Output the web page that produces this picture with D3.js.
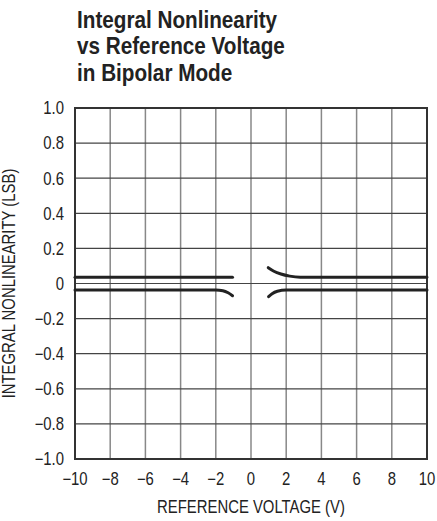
<!DOCTYPE html>
<html>
<head>
<meta charset="utf-8">
<script src="https://cdn.jsdelivr.net/npm/d3@7"></script>
<style>
  body { margin: 0; background: #fff; }
  svg { display: block; font-family: "Liberation Sans", Arial, sans-serif; }
</style>
</head>
<body>
<svg id="chart"></svg>
<script>
const width = 437;
const height = 521;

const titleLines = ["Integral Nonlinearity", "vs Reference Voltage", "in Bipolar Mode"];
const xTicks = [-10, -8, -6, -4, -2, 0, 2, 4, 6, 8, 10];
const yTicks = [-1, -0.8, -0.6, -0.4, -0.2, 0, 0.2, 0.4, 0.6, 0.8, 1];

// curves
const upperLeftX = [-10, -1.05];
const upperLeftY = [0.035, 0.035];
const lowerLeftX = [-10, -2, -1.6, -1.3, -1.05];
const lowerLeftY = [-0.037, -0.037, -0.041, -0.053, -0.07];
const upperRightX = [0.98, 1.3, 1.7, 2.2, 2.8, 10];
const upperRightY = [0.09, 0.07, 0.054, 0.042, 0.036, 0.035];
const lowerRightX = [1.0, 1.2, 1.5, 2.0, 10];
const lowerRightY = [-0.075, -0.058, -0.044, -0.037, -0.037];

const svg = d3.select("#chart").attr("width", width).attr("height", height);

const x = d3.scaleLinear().domain([-10, 10]).range([75, 427]);
const y = d3.scaleLinear().domain([-1, 1]).range([459, 108]);

// no condensed face installed, so squeeze the normal one
const narrow = 0.85;
const labelSize = 17.5;
const ink = "#222";

// title
const title = svg.append("g").attr("transform", `translate(77,28) scale(0.9,1)`);
title.selectAll("text")
  .data(titleLines)
  .enter()
  .append("text")
  .attr("x", 0)
  .attr("y", (d, i) => i * 26.5)
  .attr("font-size", 23)
  .attr("font-weight", "bold")
  .attr("fill", ink)
  .text((d) => d);

// grid
svg.append("g")
  .selectAll("line")
  .data(xTicks.slice(1, -1))
  .enter()
  .append("line")
  .attr("x1", (d) => x(d))
  .attr("x2", (d) => x(d))
  .attr("y1", y(1))
  .attr("y2", y(-1))
  .attr("stroke", "#888")
  .attr("stroke-width", 1.5);

svg.append("g")
  .selectAll("line")
  .data(yTicks.slice(1, -1))
  .enter()
  .append("line")
  .attr("x1", x(-10))
  .attr("x2", x(10))
  .attr("y1", (d) => y(d))
  .attr("y2", (d) => y(d))
  .attr("stroke", "#444")
  .attr("stroke-width", 1.2);

svg.append("rect")
  .attr("x", x(-10))
  .attr("y", y(1))
  .attr("width", x(10) - x(-10))
  .attr("height", y(-1) - y(1))
  .attr("fill", "none")
  .attr("stroke", "#333")
  .attr("stroke-width", 2);

// axes labels
const fmtY = (d) => (d === 0 ? "0" : d3.format(".1f")(d).replace("-", "\u2212"));
const fmtX = (d) => String(d).replace("-", "\u2212");

svg.append("g")
  .selectAll("text")
  .data(yTicks)
  .enter()
  .append("text")
  .attr("transform", (d) => `translate(64,${y(d)}) scale(${narrow},1)`)
  .attr("dy", "0.36em")
  .attr("text-anchor", "end")
  .attr("font-size", labelSize)
  .attr("fill", ink)
  .text(fmtY);

svg.append("g")
  .selectAll("text")
  .data(xTicks)
  .enter()
  .append("text")
  .attr("transform", (d) => `translate(${x(d)},485) scale(${narrow},1)`)
  .attr("text-anchor", "middle")
  .attr("font-size", labelSize)
  .attr("fill", ink)
  .text(fmtX);

svg.append("text")
  .attr("transform", `translate(${x(0)},513) scale(${narrow},1)`)
  .attr("text-anchor", "middle")
  .attr("font-size", labelSize)
  .attr("fill", ink)
  .text("REFERENCE VOLTAGE (V)");

svg.append("text")
  .attr("transform", `translate(15,${y(0)}) rotate(-90) scale(${narrow},1)`)
  .attr("text-anchor", "middle")
  .attr("font-size", labelSize)
  .attr("fill", ink)
  .text("INTEGRAL NONLINEARITY (LSB)");

// curves
const line = d3.line()
  .x((d) => x(d[0]))
  .y((d) => y(d[1]))
  .curve(d3.curveMonotoneX);

const series = [
  [upperLeftX, upperLeftY],
  [lowerLeftX, lowerLeftY],
  [upperRightX, upperRightY],
  [lowerRightX, lowerRightY],
];

svg.append("g")
  .selectAll("path")
  .data(series.map(([xs, ys]) => xs.map((v, i) => [v, ys[i]])))
  .enter()
  .append("path")
  .attr("d", line)
  .attr("fill", "none")
  .attr("stroke", ink)
  .attr("stroke-width", 3)
  .attr("stroke-linecap", "round");
</script>
</body>
</html>
